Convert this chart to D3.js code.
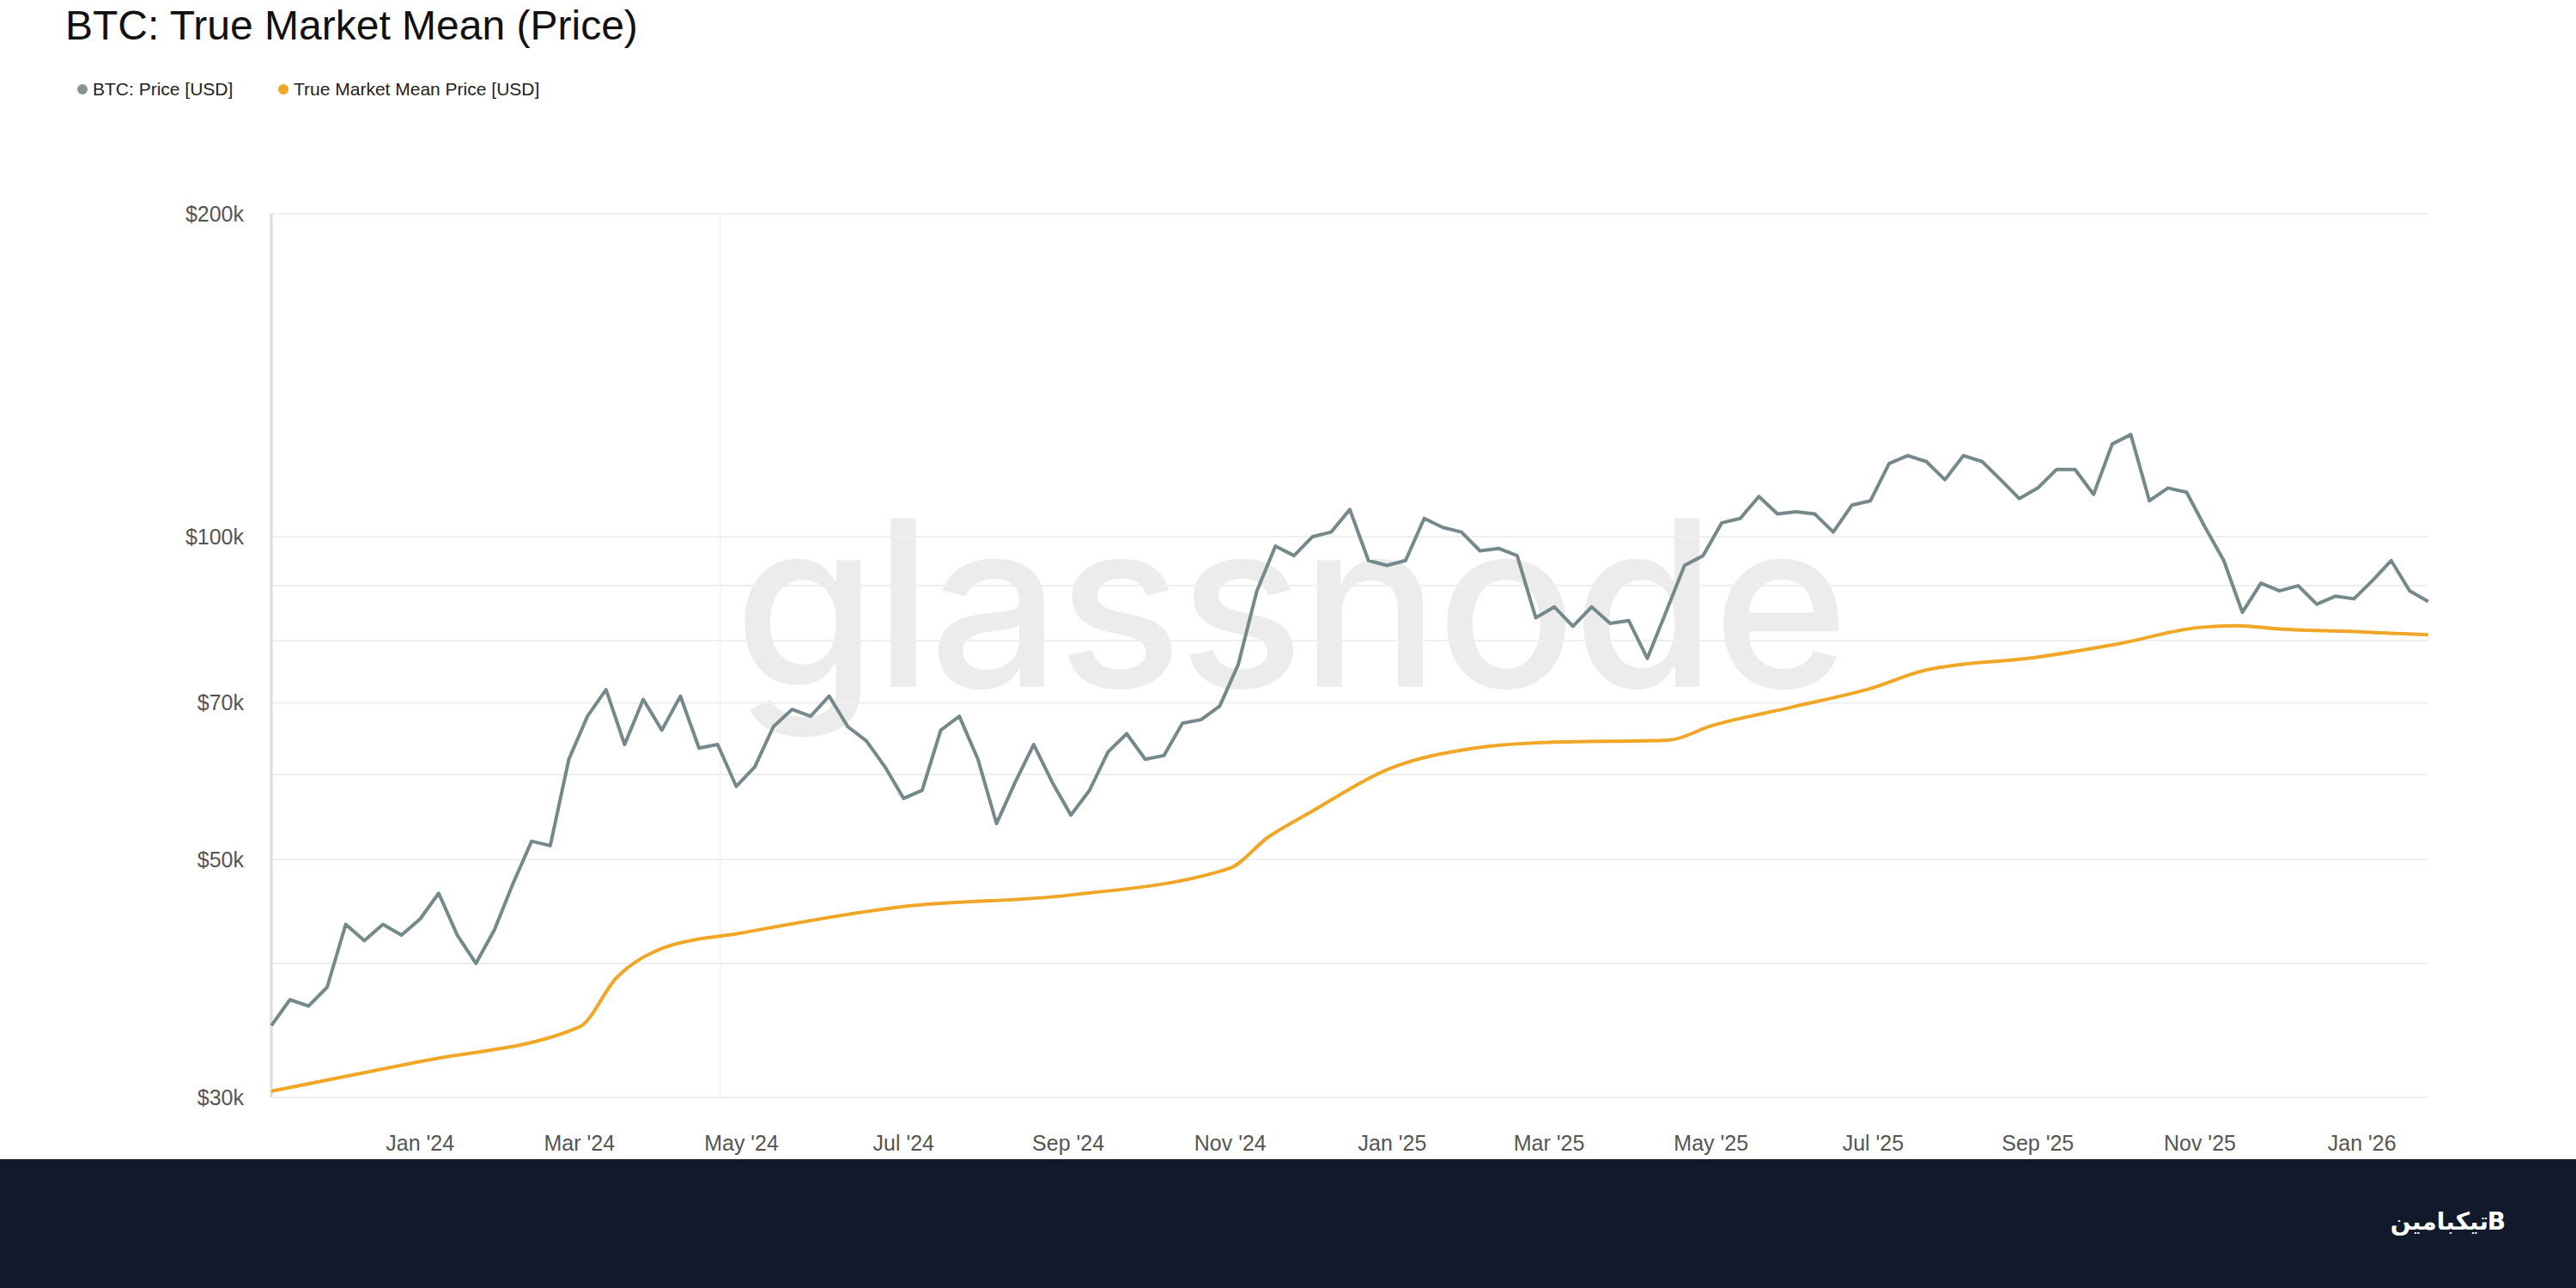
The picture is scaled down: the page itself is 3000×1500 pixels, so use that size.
<!DOCTYPE html>
<html>
<head>
<meta charset="utf-8">
<script src="https://cdn.jsdelivr.net/npm/d3@7"></script>
<style>
  body { margin: 0; background: #fff; }
  svg { display: block; font-family: "Liberation Sans", Arial, sans-serif; }
</style>
</head>
<body>
<svg id="chart" width="3000" height="1500"></svg>
<script>
// BTC price, weekly (thousands USD)
const priceDates = [
  "2023-11-06","2023-11-13","2023-11-20","2023-11-27","2023-12-04","2023-12-11","2023-12-18","2023-12-25",
  "2024-01-01","2024-01-08","2024-01-15","2024-01-22","2024-01-29","2024-02-05","2024-02-12","2024-02-19",
  "2024-02-26","2024-03-04","2024-03-11","2024-03-18","2024-03-25","2024-04-01","2024-04-08","2024-04-15",
  "2024-04-22","2024-04-29","2024-05-06","2024-05-13","2024-05-20","2024-05-27","2024-06-03","2024-06-10",
  "2024-06-17","2024-06-24","2024-07-01","2024-07-08","2024-07-15","2024-07-22","2024-07-29","2024-08-05",
  "2024-08-12","2024-08-19","2024-08-26","2024-09-02","2024-09-09","2024-09-16","2024-09-23","2024-09-30",
  "2024-10-07","2024-10-14","2024-10-21","2024-10-28","2024-11-04","2024-11-11","2024-11-18","2024-11-25",
  "2024-12-02","2024-12-09","2024-12-16","2024-12-23","2024-12-30","2025-01-06","2025-01-13","2025-01-20",
  "2025-01-27","2025-02-03","2025-02-10","2025-02-17","2025-02-24","2025-03-03","2025-03-10","2025-03-17",
  "2025-03-24","2025-03-31","2025-04-07","2025-04-14","2025-04-21","2025-04-28","2025-05-05","2025-05-12",
  "2025-05-19","2025-05-26","2025-06-02","2025-06-09","2025-06-16","2025-06-23","2025-06-30","2025-07-07",
  "2025-07-14","2025-07-21","2025-07-28","2025-08-04","2025-08-11","2025-08-18","2025-08-25","2025-09-01",
  "2025-09-08","2025-09-15","2025-09-22","2025-09-29","2025-10-06","2025-10-13","2025-10-20","2025-10-27",
  "2025-11-03","2025-11-10","2025-11-17","2025-11-24","2025-12-01","2025-12-08","2025-12-15","2025-12-22",
  "2025-12-29","2026-01-05","2026-01-12","2026-01-19","2026-01-26"
];
const priceValues = [
  35.0,37.0,36.5,38.0,43.5,42.0,43.5,42.5,
  44.0,46.5,42.5,40.0,43.0,47.5,52.0,51.5,
  62.0,68.0,72.0,64.0,70.5,66.0,71.0,63.5,
  64.0,58.5,61.0,66.5,69.0,68.0,71.0,66.5,
  64.5,61.0,57.0,58.0,66.0,68.0,62.0,54.0,
  59.0,64.0,59.0,55.0,58.0,63.0,65.5,62.0,
  62.5,67.0,67.5,69.5,76.0,89.0,98.0,96.0,
  100.0,101.0,106.0,95.0,94.0,95.0,104.0,102.0,
  101.0,97.0,97.5,96.0,84.0,86.0,82.5,86.0,
  83.0,83.5,77.0,85.0,94.0,96.0,103.0,104.0,
  109.0,105.0,105.5,105.0,101.0,107.0,108.0,117.0,
  119.0,117.5,113.0,119.0,117.5,113.0,108.5,111.0,
  115.5,115.5,109.5,122.0,124.5,108.0,111.0,110.0,
  102.0,95.0,85.0,90.5,89.0,90.0,86.5,88.0,
  87.5,91.0,95.0,89.0,87.0
];

// True Market Mean (thousands USD)
const meanDates = [
  "2023-11-06","2024-01-01","2024-03-01","2024-03-15","2024-04-01","2024-05-01","2024-07-01","2024-09-01",
  "2024-11-01","2024-11-15","2024-12-01","2025-01-01","2025-02-01","2025-03-01","2025-04-15","2025-05-01",
  "2025-06-01","2025-07-01","2025-07-20","2025-09-01","2025-10-01","2025-11-01","2025-11-15","2025-12-01",
  "2026-01-01","2026-01-26"
];
const meanValues = [
  30.4,32.4,34.9,38.8,41.3,42.7,45.2,46.3,
  49.1,52.4,55.3,60.9,63.5,64.3,64.6,66.6,
  69.4,72.3,75.0,77.2,79.4,82.3,82.6,82.0,
  81.5,81.0
];

const yTicks = [30, 50, 70, 100, 200];
const yGrid = [30, 40, 50, 60, 70, 80, 90, 100, 200];
const xTickDates = ["2024-01-01","2024-03-01","2024-05-01","2024-07-01","2024-09-01","2024-11-01",
  "2025-01-01","2025-03-01","2025-05-01","2025-07-01","2025-09-01","2025-11-01","2026-01-01"];

const parse = d3.timeParse("%Y-%m-%d");
const price = priceDates.map((d, i) => ({ date: parse(d), v: priceValues[i] }));
const mean = meanDates.map((d, i) => ({ date: parse(d), v: meanValues[i] }));

const svg = d3.select("#chart");
const m = { left: 316, right: 2828, top: 249, bottom: 1278 };

const x = d3.scaleTime()
  .domain([parse("2023-11-06"), parse("2026-01-26")])
  .range([m.left, m.right]);
const y = d3.scaleLog().domain([30, 200]).range([m.bottom, m.top]);

// title + legend
svg.append("text").attr("x", 76).attr("y", 46).attr("font-size", 48)
  .attr("fill", "#111").text("BTC: True Market Mean (Price)");
const legend = [
  { label: "BTC: Price [USD]", color: "#8a9494", x: 96 },
  { label: "True Market Mean Price [USD]", color: "#f0a626", x: 330 }
];
legend.forEach(l => {
  svg.append("circle").attr("cx", l.x).attr("cy", 104).attr("r", 6).attr("fill", l.color);
  svg.append("text").attr("x", l.x + 12).attr("y", 111).attr("font-size", 21)
    .attr("fill", "#222").text(l.label);
});

// watermark
svg.append("text").attr("x", 1502).attr("y", 800).attr("text-anchor", "middle")
  .attr("font-size", 270).attr("fill", "#ececec").attr("font-weight", 500)
  .attr("font-family", "Inter, sans-serif").attr("letter-spacing", -4).text("glassnode");

// grid
svg.append("g").selectAll("line").data(yGrid).join("line")
  .attr("x1", m.left).attr("x2", m.right)
  .attr("y1", d => y(d)).attr("y2", d => y(d))
  .attr("stroke", "#efefef").attr("stroke-width", 2);
svg.append("line").attr("x1", x(parse("2024-04-23"))).attr("x2", x(parse("2024-04-23")))
  .attr("y1", m.top).attr("y2", m.bottom).attr("stroke", "#f3f3f3").attr("stroke-width", 2);
svg.append("line").attr("x1", m.left).attr("x2", m.left)
  .attr("y1", m.top).attr("y2", m.bottom).attr("stroke", "#dcdcdc").attr("stroke-width", 3);

// y labels
svg.append("g").selectAll("text").data(yTicks).join("text")
  .attr("x", 284).attr("y", d => y(d)).attr("dy", "0.35em")
  .attr("text-anchor", "end").attr("font-size", 25).attr("fill", "#555")
  .text(d => `$${d}k`);

// x labels
svg.append("g").selectAll("text").data(xTickDates).join("text")
  .attr("x", d => x(parse(d))).attr("y", 1340)
  .attr("text-anchor", "middle").attr("font-size", 25).attr("fill", "#555")
  .text(d => d3.timeFormat("%b '%y")(parse(d)));

// lines
const line = d3.line().x(d => x(d.date)).y(d => y(d.v));
svg.append("path").datum(mean).attr("d", line.curve(d3.curveMonotoneX))
  .attr("fill", "none").attr("stroke", "#f0a626").attr("stroke-width", 4);
svg.append("path").datum(price).attr("d", line.curve(d3.curveLinear))
  .attr("fill", "none").attr("stroke", "#75888a").attr("stroke-width", 4)
  .attr("stroke-linejoin", "round");

// bottom band
svg.append("rect").attr("x", 0).attr("y", 1350).attr("width", 3000).attr("height", 150)
  .attr("fill", "#111a2b");
svg.append("text").attr("x", 2918).attr("y", 1432).attr("text-anchor", "end")
  .attr("font-size", 28).attr("font-weight", 700).attr("fill", "#fff")
  .attr("font-family", "DejaVu Sans").text("B");
svg.append("text").attr("x", 2898).attr("y", 1432).attr("text-anchor", "end")
  .attr("font-size", 28).attr("font-weight", 700).attr("fill", "#fff")
  .attr("font-family", "DejaVu Sans").text("تیکبامین");
</script>
</body>
</html>
